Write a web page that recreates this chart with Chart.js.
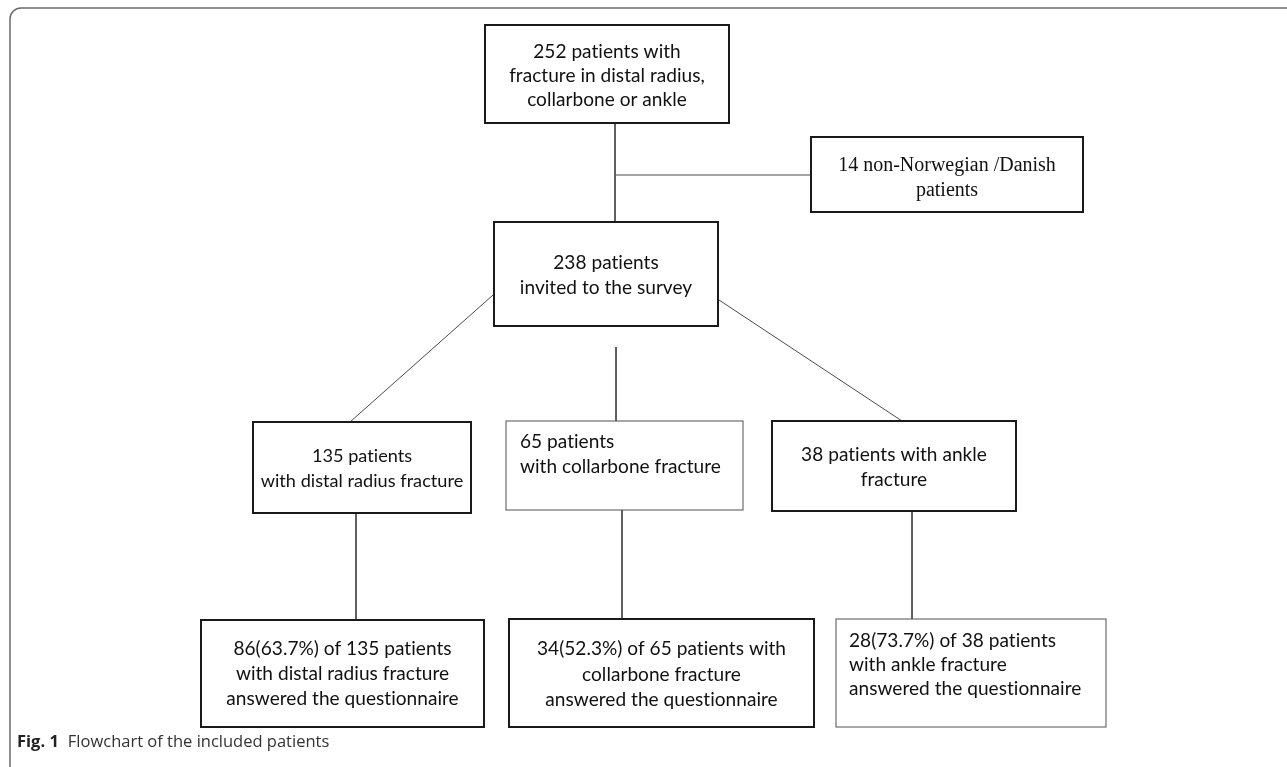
<!DOCTYPE html>
<html><head><meta charset="utf-8">
<script src="https://cdn.jsdelivr.net/npm/chart.js@4/dist/chart.umd.min.js"></script>
<style>html,body{margin:0;padding:0;background:#fff;} #wrap{width:1287px;height:767px;position:relative;}</style>
</head><body><div id="wrap"><canvas id="c" width="1287" height="767"></canvas></div>
<script>
// ---- data ----
const stages = ['screened','excluded','invited','typeRadius','typeCollarbone','typeAnkle','ansRadius','ansCollarbone','ansAnkle'];
const fractureTypes = ['distal radius','collarbone','ankle'];
const screenedPatients = [252];
const excludedPatients = [14];
const invitedPatients = [238];
const invitedByType = [135, 65, 38];
const answeredByType = [86, 34, 28];
const captionLabel = ['Fig. 1', 'Flowchart of the included patients'];

const pct = (a, b) => (a / b * 100).toFixed(1) + '%';
const boxText = {
  screened: [`${screenedPatients[0]} patients with`, `fracture in ${fractureTypes[0]},`, `${fractureTypes[1]} or ${fractureTypes[2]}`],
  excluded: [`${excludedPatients[0]} non-Norwegian /Danish`, 'patients'],
  invited: [`${invitedPatients[0]} patients`, 'invited to the survey'],
  typeRadius: [`${invitedByType[0]} patients`, `with ${fractureTypes[0]} fracture`],
  typeCollarbone: [`${invitedByType[1]} patients`, `with ${fractureTypes[1]} fracture`],
  typeAnkle: [`${invitedByType[2]} patients with ${fractureTypes[2]}`, 'fracture'],
  ansRadius: [`${answeredByType[0]}(${pct(answeredByType[0], invitedByType[0])}) of ${invitedByType[0]} patients`, `with ${fractureTypes[0]} fracture`, 'answered the questionnaire'],
  ansCollarbone: [`${answeredByType[1]}(${pct(answeredByType[1], invitedByType[1])}) of ${invitedByType[1]} patients with`, `${fractureTypes[1]} fracture`, 'answered the questionnaire'],
  ansAnkle: [`${answeredByType[2]}(${pct(answeredByType[2], invitedByType[2])}) of ${invitedByType[2]} patients`, `with ${fractureTypes[2]} fracture`, 'answered the questionnaire']
};

// ---- layout (data units of the hidden linear scales) ----
const layout = {
  screened:       {x0:485, y0:25,  x1:729,  y1:123, ty:[52,76,100],  align:'center', lw:2},
  excluded:       {x0:811, y0:137, x1:1083, y1:212, ty:[166,191],    align:'center', lw:2, serif:true},
  invited:        {x0:494, y0:222, x1:718,  y1:326, ty:[263,288],    align:'center', lw:2},
  typeRadius:     {x0:253, y0:422, x1:471,  y1:513, ty:[456,481],    align:'center', lw:2, fs:0.95},
  typeCollarbone: {x0:506, y0:421, x1:743,  y1:510, ty:[442,467],    align:'left', pad:14, lw:1},
  typeAnkle:      {x0:772, y0:421, x1:1016, y1:511, ty:[455,480],    align:'center', lw:2},
  ansRadius:      {x0:201, y0:620, x1:484,  y1:727, ty:[649,674,699], align:'center', lw:2},
  ansCollarbone:  {x0:509, y0:619, x1:814,  y1:727, ty:[649,675,700], align:'center', lw:2},
  ansAnkle:       {x0:836, y0:619, x1:1106, y1:727, ty:[641,665,689], align:'left', pad:13, lw:1}
};
const connectors = [
  [[615,123],[615,222]],
  [[616,175],[811,175]],
  [[493,295],[350,422]],
  [[719,300],[902,421]],
  [[616,347],[616,421]],
  [[356,513],[356,620]],
  [[622,510],[622,619]],
  [[912,511],[912,619]]
];

const datasets = connectors.map(seg => ({
  type: 'line',
  data: seg.map(p => ({x: p[0], y: p[1]})),
  showLine: true, borderColor: '#4a4a4a', borderWidth: 1,
  pointRadius: 0, fill: false, tension: 0
}));

// fit a Calibri-like size
const mctx = document.createElement('canvas').getContext('2d');
mctx.font = '20px Lato';
const sansSize = 20 * 249 / mctx.measureText(boxText.ansCollarbone[0]).width;

const flowPlugin = {
  id: 'flow',
  afterDatasetsDraw(chart) {
    const ctx = chart.ctx, xs = chart.scales.x, ys = chart.scales.y;
    const px = v => xs.getPixelForValue(v), py = v => ys.getPixelForValue(v);
    ctx.save();
    // outer frame
    ctx.strokeStyle = '#6b6b6b'; ctx.lineWidth = 1.5;
    ctx.beginPath();
    ctx.moveTo(px(10), py(767));
    ctx.lineTo(px(10), py(19));
    ctx.arcTo(px(10), py(8), px(21), py(8), 11);
    ctx.lineTo(px(1287), py(8));
    ctx.stroke();
    // boxes
    stages.forEach(k => {
      const b = layout[k];
      const x0 = px(b.x0), x1 = px(b.x1), y0 = py(b.y0), y1 = py(b.y1);
      ctx.fillStyle = '#fff';
      ctx.fillRect(x0, y0, x1 - x0, y1 - y0);
      ctx.lineWidth = b.lw;
      ctx.strokeStyle = b.lw > 1 ? '#1a1a1a' : '#505050';
      ctx.strokeRect(x0, y0, x1 - x0, y1 - y0);
      ctx.fillStyle = '#111';
      ctx.textBaseline = 'middle';
      if (b.serif) {
        ctx.letterSpacing = '0px';
        ctx.font = '20px "Liberation Serif", "Times New Roman", serif';
      } else {
        ctx.letterSpacing = '0.02px'; // avoids the Lato "ti" ligature
        ctx.font = (sansSize * (b.fs || 1)).toFixed(2) + 'px Lato, "Open Sans", sans-serif';
      }
      ctx.textAlign = b.align;
      const tx = b.align === 'center' ? (x0 + x1) / 2 : x0 + b.pad;
      boxText[k].forEach((line, i) => ctx.fillText(line, tx, py(b.ty[i])));
    });
    ctx.letterSpacing = '0px';
    // caption
    ctx.textAlign = 'left'; ctx.textBaseline = 'alphabetic';
    ctx.fillStyle = '#222';
    ctx.font = 'bold 16.5px "Open Sans", "Noto Sans", sans-serif';
    ctx.fillText(captionLabel[0], px(17), py(747));
    const w = ctx.measureText(captionLabel[0]).width;
    ctx.font = '16.5px "Open Sans", "Noto Sans", sans-serif';
    ctx.fillStyle = '#333';
    ctx.fillText(captionLabel[1], px(17) + w + 9, py(747));
    ctx.restore();
  }
};

new Chart(document.getElementById('c'), {
  type: 'scatter',
  data: { datasets },
  options: {
    responsive: false, animation: false,
    layout: { padding: 0 },
    plugins: { legend: { display: false }, tooltip: { enabled: false } },
    scales: {
      x: { type: 'linear', min: 0, max: 1287, display: false },
      y: { type: 'linear', min: 0, max: 767, reverse: true, display: false }
    }
  },
  plugins: [flowPlugin]
});
</script></body></html>
